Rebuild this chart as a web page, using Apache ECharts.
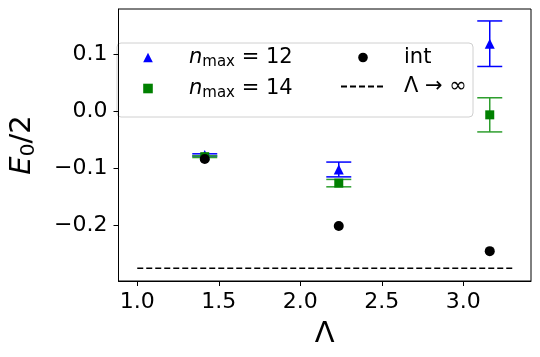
<!DOCTYPE html>
<html>
<head>
<meta charset="UTF-8">
<script src="https://cdn.jsdelivr.net/npm/echarts@6/dist/echarts.min.js"></script>
<style>
  body { margin: 0; background: #fff; }
  #main { width: 540px; height: 357px; }
</style>
</head>
<body>
<div id="main"></div>
<script>
// Lambda values (sqrt(2), sqrt(5), sqrt(10))
var lambdas = [1.414, 2.236, 3.162];
// n_max = 12 : value, error
var n12 = [-0.0765, -0.102, 0.119];
var n12Err = [0.002, 0.013, 0.040];
// n_max = 14
var n14 = [-0.0795, -0.126, -0.006];
var n14Err = [0.0015, 0.0065, 0.030];
// interaction
var intVals = [-0.0835, -0.2015, -0.2455];
// Lambda -> infinity limit
var limitX = [1.0, 3.3];
var limitY = -0.2755;

var xTicks = [1.0, 1.5, 2.0, 2.5, 3.0];
var yTicks = [-0.2, -0.1, 0.0, 0.1];

var font = 'DejaVu Sans';

function pts(ys) {
  return lambdas.map(function (x, i) { return [x, ys[i]]; });
}
function errData(ys, es) {
  return lambdas.map(function (x, i) { return [x, ys[i] - es[i], ys[i] + es[i]]; });
}
function errRender(color) {
  return function (params, api) {
    var x = api.value(0);
    var lo = api.coord([x, api.value(1)]);
    var hi = api.coord([x, api.value(2)]);
    var cap = 12.5;
    var st = { stroke: color, lineWidth: 1.5 };
    return {
      type: 'group',
      children: [
        { type: 'line', shape: { x1: lo[0], y1: lo[1], x2: hi[0], y2: hi[1] }, style: st },
        { type: 'line', shape: { x1: lo[0] - cap, y1: lo[1], x2: lo[0] + cap, y2: lo[1] }, style: st },
        { type: 'line', shape: { x1: hi[0] - cap, y1: hi[1], x2: hi[0] + cap, y2: hi[1] }, style: st }
      ]
    };
  };
}

var legendRich = {
  i: { fontFamily: font, fontSize: 21, fontStyle: 'italic', color: '#000' },
  s: { fontFamily: font, fontSize: 15, color: '#000', padding: [10, 0, 0, 0] },
  t: { fontFamily: font, fontSize: 21, color: '#000' }
};

var chart = echarts.init(document.getElementById('main'));
chart.setOption({
  animation: false,
  backgroundColor: '#fff',
  grid: {
    left: 112, right: 9, top: 9, bottom: 76,
    show: true, borderColor: '#000', borderWidth: 1
  },
  graphic: [{
    type: 'rect', z: 0,
    shape: { x: 117, y: 43, width: 356, height: 74, r: 4 },
    style: { fill: 'rgba(255,255,255,0.8)', stroke: '#d0d0d0', lineWidth: 1 }
  }],
  legend: [{
    left: 126, top: 47, padding: 0,
    orient: 'vertical', itemGap: 8,
    itemWidth: 44, itemHeight: 12,
    data: ['n12', 'n14'],
    formatter: function (name) {
      return name === 'n12' ? '{i|n}{s|max}{t| = 12}' : '{i|n}{s|max}{t| = 14}';
    },
    textStyle: { padding: [0, 0, 0, 14], rich: legendRich }
  }, {
    left: 340, top: 47, padding: 0,
    orient: 'vertical', itemGap: 8,
    itemWidth: 44, itemHeight: 12,
    data: ['int', { name: 'limit', itemStyle: { opacity: 0 } }],
    formatter: function (name) {
      return name === 'int' ? '{t|int}' : '{t|Λ → ∞}';
    },
    textStyle: { padding: [0, 0, 0, 14], rich: legendRich }
  }],
  xAxis: {
    type: 'value', min: 0.885, max: 3.415,
    interval: 0.5,
    name: 'Λ', nameLocation: 'middle', nameGap: 39,
    nameTextStyle: { fontFamily: font, fontSize: 29, color: '#000' },
    axisLine: { show: true, onZero: false, lineStyle: { color: '#000', width: 1 } },
    axisTick: { show: true, inside: false, length: 5, lineStyle: { color: '#000' }, customValues: xTicks },
    axisLabel: { fontFamily: font, fontSize: 22, color: '#000', margin: 10, customValues: xTicks,
      formatter: function (v) { return v.toFixed(1); } },
    splitLine: { show: false }
  },
  yAxis: {
    type: 'value', min: -0.298, max: 0.18,
    name: '{e|E}{z|0}{n|/2}', nameLocation: 'middle', nameGap: 80,
    nameTextStyle: {
      rich: {
        e: { fontFamily: font, fontSize: 29, fontStyle: 'italic', color: '#000' },
        z: { fontFamily: font, fontSize: 20, color: '#000', padding: [12, 0, 0, 0] },
        n: { fontFamily: font, fontSize: 29, color: '#000' }
      }
    },
    axisLine: { show: true, onZero: false, lineStyle: { color: '#000', width: 1 } },
    axisTick: { show: true, inside: false, length: 5, lineStyle: { color: '#000' }, customValues: yTicks },
    axisLabel: { fontFamily: font, fontSize: 22, color: '#000', margin: 11,
      customValues: yTicks,
      formatter: function (v) { return (v < 0 ? '\u2212' : '') + Math.abs(v).toFixed(1); } },
    splitLine: { show: false }
  },
  series: [
    { type: 'custom', renderItem: errRender('#0000ff'), data: errData(n12, n12Err), z: 2 },
    { name: 'n12', type: 'line', data: pts(n12), symbol: 'triangle', symbolSize: 10,
      itemStyle: { color: '#0000ff' }, lineStyle: { width: 0, opacity: 0 }, z: 3 },
    { type: 'custom', renderItem: errRender('#2e9e2e'), data: errData(n14, n14Err), z: 4 },
    { name: 'n14', type: 'line', data: pts(n14), symbol: 'rect', symbolSize: 9,
      itemStyle: { color: '#008000' }, lineStyle: { width: 0, opacity: 0 }, z: 5 },
    { name: 'int', type: 'line', data: pts(intVals), symbol: 'circle', symbolSize: 10,
      itemStyle: { color: '#000' }, lineStyle: { width: 0, opacity: 0 }, z: 6 },
    { name: 'limit', type: 'line', data: limitX.map(function (x) { return [x, limitY]; }),
      symbol: 'none', lineStyle: { color: '#000', width: 1.5, type: [6, 3] },
      itemStyle: { color: '#000' }, z: 7 }
  ]
});
</script>
</body>
</html>
